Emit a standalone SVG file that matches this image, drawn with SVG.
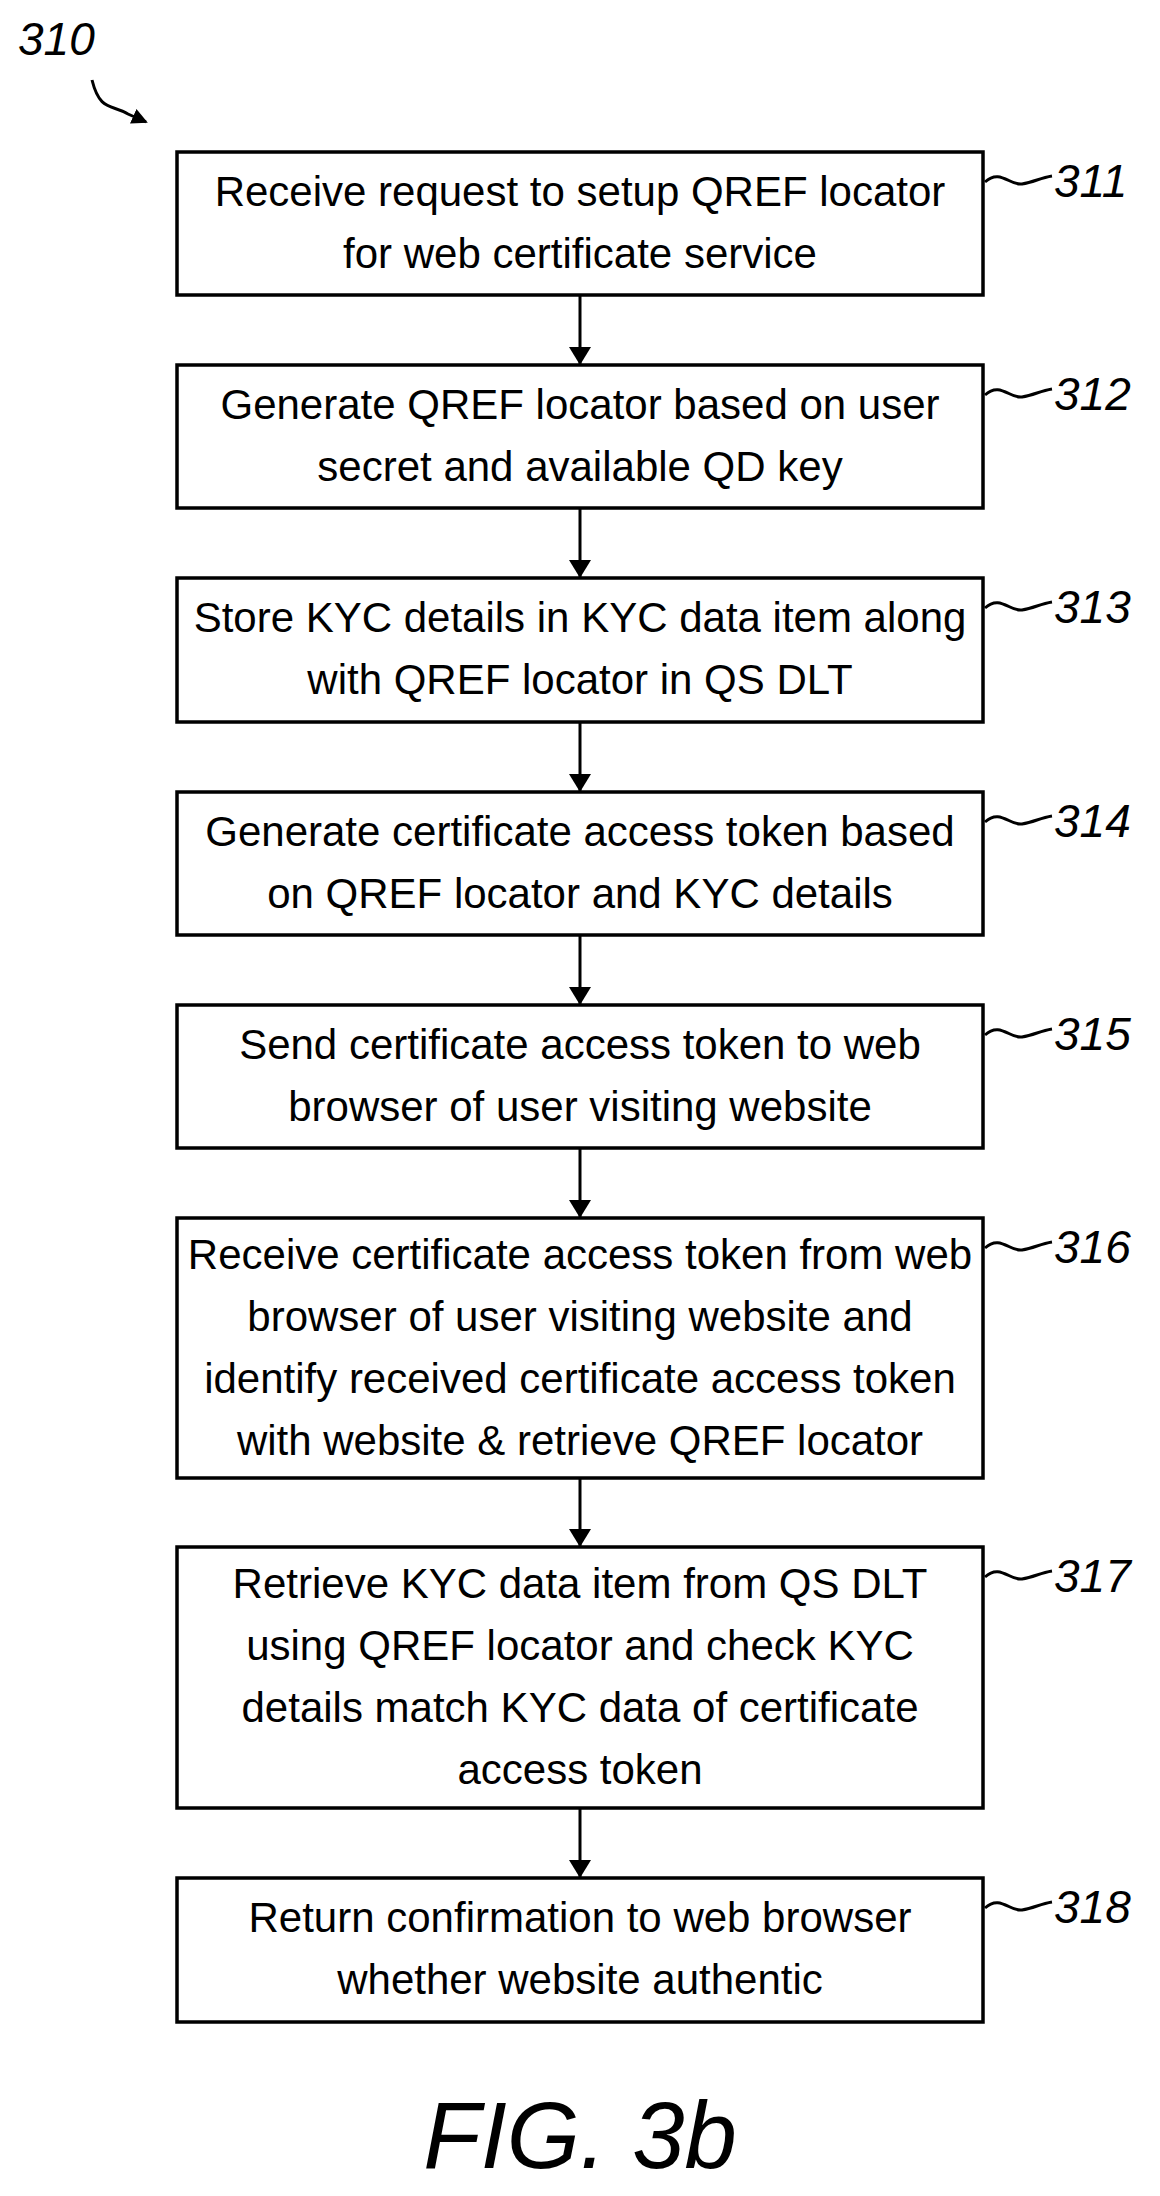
<svg xmlns="http://www.w3.org/2000/svg" width="1160" height="2196" viewBox="0 0 1160 2196">
<defs>
<style>
.b{fill:#fff;stroke:#000;stroke-width:3.5}
.t{font-family:"Liberation Sans",Arial,sans-serif;font-size:42px;text-anchor:middle;fill:#000}
.r{font-family:"Liberation Sans",Arial,sans-serif;font-size:46px;font-style:italic;fill:#000}
.c{fill:none;stroke:#000;stroke-width:3}
</style>
<marker id="a" markerWidth="16" markerHeight="16" refX="14" refY="8" orient="auto" markerUnits="userSpaceOnUse" viewBox="0 0 16 16"><path d="M0,0 L16,8 L0,16 z" fill="#000"/></marker>
<marker id="ah" markerWidth="18" markerHeight="22" refX="18" refY="11" orient="auto" markerUnits="userSpaceOnUse" viewBox="0 0 18 22"><path d="M0,0 L18,11 L0,22 z" fill="#000"/></marker>
</defs>
<rect width="1160" height="2196" fill="#fff"/>
<g id="ref310">
<text class="r" x="18" y="55">310</text>
<path class="c" d="M92,80 C100,112 112,104 128,114 L146,122" marker-end="url(#a)"/>
</g>
<g id="connectors">
<line class="c" x1="580" y1="295" x2="580" y2="365" marker-end="url(#ah)"/>
<line class="c" x1="580" y1="508" x2="580" y2="578" marker-end="url(#ah)"/>
<line class="c" x1="580" y1="722" x2="580" y2="792" marker-end="url(#ah)"/>
<line class="c" x1="580" y1="935" x2="580" y2="1005" marker-end="url(#ah)"/>
<line class="c" x1="580" y1="1148" x2="580" y2="1218" marker-end="url(#ah)"/>
<line class="c" x1="580" y1="1478" x2="580" y2="1547" marker-end="url(#ah)"/>
<line class="c" x1="580" y1="1808" x2="580" y2="1878" marker-end="url(#ah)"/>
</g>
<g id="n311"><rect class="b" x="177" y="152" width="806" height="143"/>
<text class="t" x="580" y="206">Receive request to setup QREF locator</text><text class="t" x="580" y="268">for web certificate service</text>
<path class="c" d="M985,182 C1000,168 1010,186 1022,184 C1034,182 1040,178 1052,176"/><text class="r" x="1054" y="197">311</text></g>
<g id="n312"><rect class="b" x="177" y="365" width="806" height="143"/>
<text class="t" x="580" y="419">Generate QREF locator based on user</text><text class="t" x="580" y="481">secret and available QD key</text>
<path class="c" d="M985,395 C1000,381 1010,399 1022,397 C1034,395 1040,391 1052,389"/><text class="r" x="1054" y="410">312</text></g>
<g id="n313"><rect class="b" x="177" y="578" width="806" height="144"/>
<text class="t" x="580" y="632">Store KYC details in KYC data item along</text><text class="t" x="580" y="694">with QREF locator in QS DLT</text>
<path class="c" d="M985,608 C1000,594 1010,612 1022,610 C1034,608 1040,604 1052,602"/><text class="r" x="1054" y="623">313</text></g>
<g id="n314"><rect class="b" x="177" y="792" width="806" height="143"/>
<text class="t" x="580" y="846">Generate certificate access token based</text><text class="t" x="580" y="908">on QREF locator and KYC details</text>
<path class="c" d="M985,822 C1000,808 1010,826 1022,824 C1034,822 1040,818 1052,816"/><text class="r" x="1054" y="837">314</text></g>
<g id="n315"><rect class="b" x="177" y="1005" width="806" height="143"/>
<text class="t" x="580" y="1059">Send certificate access token to web</text><text class="t" x="580" y="1121">browser of user visiting website</text>
<path class="c" d="M985,1035 C1000,1021 1010,1039 1022,1037 C1034,1035 1040,1031 1052,1029"/><text class="r" x="1054" y="1050">315</text></g>
<g id="n316"><rect class="b" x="177" y="1218" width="806" height="260"/>
<text class="t" x="580" y="1269">Receive certificate access token from web</text><text class="t" x="580" y="1331">browser of user visiting website and</text><text class="t" x="580" y="1393">identify received certificate access token</text><text class="t" x="580" y="1455">with website &amp; retrieve QREF locator</text>
<path class="c" d="M985,1248 C1000,1234 1010,1252 1022,1250 C1034,1248 1040,1244 1052,1242"/><text class="r" x="1054" y="1263">316</text></g>
<g id="n317"><rect class="b" x="177" y="1547" width="806" height="261"/>
<text class="t" x="580" y="1598">Retrieve KYC data item from QS DLT</text><text class="t" x="580" y="1660">using QREF locator and check KYC</text><text class="t" x="580" y="1722">details match KYC data of certificate</text><text class="t" x="580" y="1784">access token</text>
<path class="c" d="M985,1577 C1000,1563 1010,1581 1022,1579 C1034,1577 1040,1573 1052,1571"/><text class="r" x="1054" y="1592">317</text></g>
<g id="n318"><rect class="b" x="177" y="1878" width="806" height="144"/>
<text class="t" x="580" y="1932">Return confirmation to web browser</text><text class="t" x="580" y="1994">whether website authentic</text>
<path class="c" d="M985,1908 C1000,1894 1010,1912 1022,1910 C1034,1908 1040,1904 1052,1902"/><text class="r" x="1054" y="1923">318</text></g>
<text x="580" y="2168" font-family="Liberation Sans,Arial,sans-serif" font-size="94" font-style="italic" text-anchor="middle">FIG. 3b</text>
</svg>
